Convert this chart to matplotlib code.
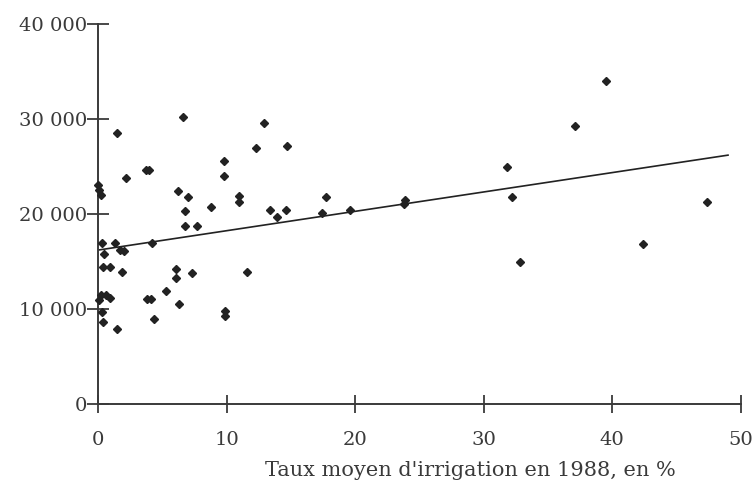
import numpy as np
import matplotlib.pyplot as plt
from matplotlib.ticker import FuncFormatter

# --- Données ---
taux_irrigation = [0.0, 0.1, 0.2, 1.5, 2.2, 3.7, 4.0, 6.6, 6.2, 7.0,
                   6.8, 6.8, 7.7, 9.8, 9.8, 11.0, 11.0, 8.8, 12.9, 12.3,
                   14.7, 13.4, 13.9, 14.6, 17.7, 17.4, 19.6, 23.8, 23.9, 31.8,
                   32.2, 32.8, 37.1, 39.5, 42.4, 47.4, 0.3, 1.3, 0.5, 1.7,
                   2.0, 4.2, 0.4, 0.9, 1.9, 6.1, 6.1, 7.3, 11.6, 5.3,
                   3.8, 4.1, 6.3, 4.35, 9.9, 9.9, 0.2, 0.6, 0.9, 0.1,
                   0.3, 0.4, 1.45]
valeur = [23100, 22500, 22000, 28500, 23750, 24600, 24600, 30200, 22400, 21800,
          20300, 18750, 18750, 25600, 24000, 21300, 21900, 20750, 29600, 27000,
          27200, 20400, 19700, 20400, 21800, 20100, 20400, 21100, 21500, 24900,
          21800, 14900, 29300, 34000, 16800, 21300, 16900, 16900, 15800, 16200,
          16100, 16950, 14400, 14400, 13900, 14200, 13250, 13750, 13900, 11900,
          11050, 11050, 10500, 8900, 9300, 9800, 11500, 11500, 11200, 10900,
          9700, 8650, 7900]

# droite de régression (ordonnée à l'origine, pente, étendue)
reg_intercept = 16200
reg_pente = 204
reg_x = [0, 49]

x_ticks = [0, 10, 20, 30, 40, 50]
y_ticks = [0, 10000, 20000, 30000, 40000]

gris = '#3a3a3a'
plt.rcParams['font.family'] = ['DejaVu Serif']

fig = plt.figure(figsize=(7.56, 4.96), dpi=100)
ax = fig.add_axes([0.1296, 0.1855, 0.8504, 0.7661])

ax.plot(taux_irrigation, valeur, linestyle='none', marker='D', markersize=4.2,
        color='#222222', clip_on=False, zorder=3)

xr = np.array(reg_x, dtype=float)
ax.plot(xr, reg_intercept + reg_pente * xr, color='#222222', lw=1.2, zorder=2)

ax.set_xlim(0, 50)
ax.set_ylim(0, 40000)
ax.set_xticks(x_ticks)
ax.set_yticks(y_ticks)
ax.yaxis.set_major_formatter(FuncFormatter(lambda v, p: f"{int(v):,}".replace(",", " ")))

for s in ['top', 'right']:
    ax.spines[s].set_visible(False)
for s in ['left', 'bottom']:
    ax.spines[s].set_linewidth(1.4)
    ax.spines[s].set_color(gris)

ax.tick_params(axis='y', direction='inout', length=16, width=1.3, color=gris,
               labelsize=14, labelcolor=gris, pad=0)
ax.tick_params(axis='x', direction='inout', length=13, width=1.3, color=gris,
               labelsize=14, labelcolor=gris, pad=13)

fig.text(470 / 756, 1 - 471 / 496, "Taux moyen d'irrigation en 1988, en %",
         ha='center', va='center', fontsize=15, color=gris)

fig.savefig('out.png', dpi=100)
